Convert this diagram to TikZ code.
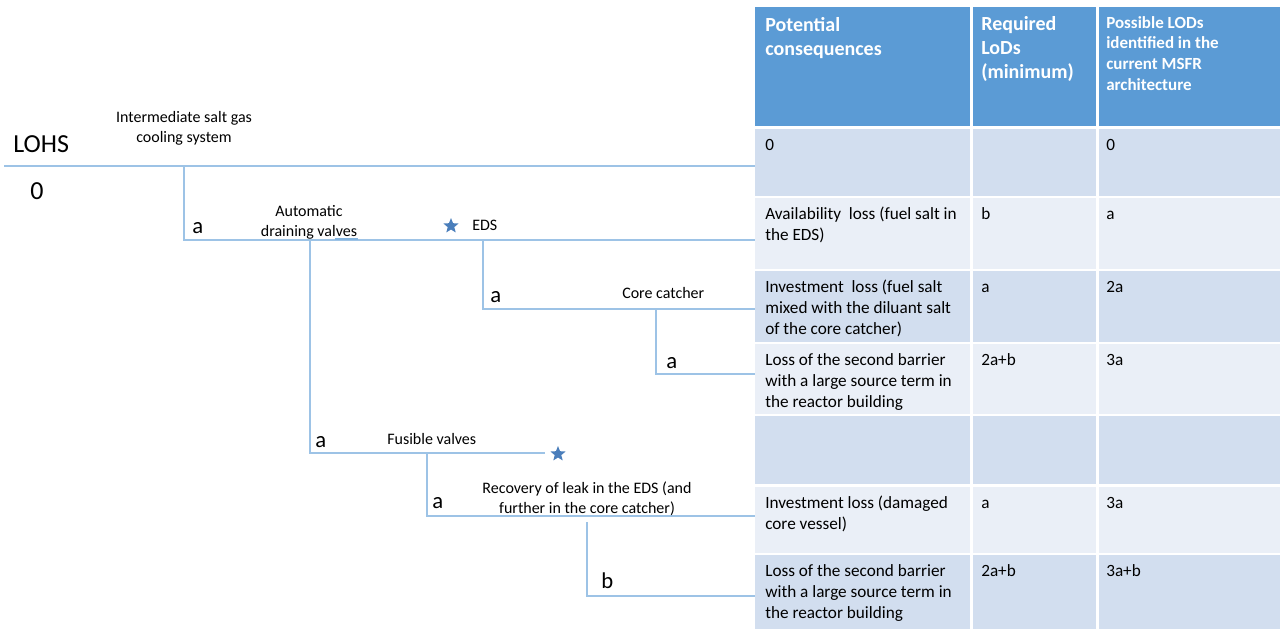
\documentclass[tikz,border=0pt]{standalone}
\usepackage{fontspec}
\setmainfont{Carlito}
\usepackage{xcolor}
\usetikzlibrary{positioning,shapes.geometric}
\definecolor{hdrblue}{HTML}{5B9BD5}
\definecolor{rowdark}{HTML}{D2DEEF}
\definecolor{rowlight}{HTML}{EAEFF7}
\definecolor{linkblue}{HTML}{9DC3E6}
\definecolor{starblue}{HTML}{4A7EBB}

\begin{document}
\begin{tikzpicture}[x=0.75pt,y=-0.75pt,
		branch/.style={draw=linkblue,line width=1.1pt},
		evtlbl/.style={font=\fontsize{12}{15}\selectfont,align=center,inner sep=0pt,anchor=base},
		lod/.style={font=\fontsize{17}{20}\selectfont,anchor=base west,inner sep=0pt},
		evtstar/.style={star,star points=5,star point ratio=2.3,fill=starblue,minimum size=12pt,inner sep=0pt},
		cellt/.style={font=\fontsize{12.9}{15.75}\selectfont,align=left,anchor=base west,inner sep=0pt},
		hdrt/.style={font=\fontsize{15}{17.7}\selectfont\bfseries,text=white,align=left,anchor=base west,inner sep=0pt},
		hdrsmall/.style={font=\fontsize{12.75}{15.5}\selectfont\bfseries,text=white,align=left,anchor=base west,inner sep=0pt}]
		\fill[white] (0,0) rectangle (1280,629);
		\useasboundingbox (0,0) rectangle (1280,629);
		
		% table (multi-line cells sit on the baseline of their last line)
		\fill[hdrblue] (755,7) rectangle (970,126);
		\fill[hdrblue] (973,7) rectangle (1096,126);
		\fill[hdrblue] (1099,7) rectangle (1280,126);
		\foreach \yt/\yb/\shade in {129/196/rowdark,198/269/rowlight,271/342/rowdark,344/414/rowlight,416/484/rowdark,487/553/rowlight,555/629/rowdark}{
			\fill[\shade] (755,\yt) rectangle (970,\yb);
			\fill[\shade] (973,\yt) rectangle (1096,\yb);
			\fill[\shade] (1099,\yt) rectangle (1280,\yb);
		}
		\node[hdrt] (h1) at (765,55) {Potential\\consequences};
		\node[hdrt] (h2) at (981,78) {Required\\LoDs\\(minimum)};
		\node[hdrsmall] (h3) at (1106,90) {Possible LODs\\identified in the\\current MSFR\\architecture};
		
		\node[cellt] (c11) at (765,150) {0};
		\node[cellt] (c13) at (1106,150) {0};
		\node[cellt] (c21) at (765,240) {Availability\ \ loss (fuel salt in\\the EDS)};
		\node[cellt] (c22) at (981,219) {b};
		\node[cellt] (c23) at (1106,219) {a};
		\node[cellt] (c31) at (765,334) {Investment\ \ loss (fuel salt\\mixed with the diluant salt\\of the core catcher)};
		\node[cellt] (c32) at (981,292) {a};
		\node[cellt] (c33) at (1106,292) {2a};
		\node[cellt] (c41) at (765,407) {Loss of the second barrier\\with a large source term in\\the reactor building};
		\node[cellt] (c42) at (981,365) {2a+b};
		\node[cellt] (c43) at (1106,365) {3a};
		\node[cellt] (c61) at (765,529) {Investment loss (damaged\\core vessel)};
		\node[cellt] (c62) at (981,508) {a};
		\node[cellt] (c63) at (1106,508) {3a};
		\node[cellt] (c71) at (765,618) {Loss of the second barrier\\with a large source term in\\the reactor building};
		\node[cellt] (c72) at (981,576) {2a+b};
		\node[cellt] (c73) at (1106,576) {3a+b};
		
		% event tree
		\coordinate (s0) at (4,166);
		\coordinate (j0) at (184,166);
		\coordinate (j1) at (184,240);
		\coordinate (j2) at (310,240);
		\coordinate (j3) at (310,453);
		\coordinate (j4) at (483,240);
		\coordinate (j5) at (483,309);
		\coordinate (j6) at (656,309);
		\coordinate (j7) at (656,374);
		\coordinate (j8) at (427,453);
		\coordinate (j9) at (427,516);
		\coordinate (j10) at (587,522);
		\coordinate (j11) at (587,596);
		\coordinate (e0) at (755,166);
		\coordinate (e1) at (755,240);
		\coordinate (e2) at (755,309);
		\coordinate (e3) at (755,374);
		\coordinate (e4) at (755,516);
		\coordinate (e5) at (755,596);
		\coordinate (f0) at (545,453);
		
		\draw[branch] (s0) -- (e0);
		\draw[branch] (j0) -- (j1) -- (e1);
		\draw[branch] (j2) -- (j3) -- (f0);
		\draw[branch] (j4) -- (j5) -- (e2);
		\draw[branch] (j6) -- (j7) -- (e3);
		\draw[branch] (j8) -- (j9) -- (e4);
		\draw[branch] (j10) -- (j11) -- (e5);
		\coordinate (u0) at (335,239);
		\coordinate (u1) at (358,239);
		\draw[draw=hdrblue!75,line width=0.8pt] (u0) -- (u1);
		
		\node[evtstar] (eds) at (451,226) {};
		\node[evtstar] (fus) at (558,454) {};
		
		\node[lod,font=\fontsize{19.5}{22}\selectfont] (lohs) at (13,152) {LOHS};
		\node[lod,font=\fontsize{19.5}{22}\selectfont] (zero) at (30,199) {0};
		\node[lod] (a1) at (192,233) {a};
		\node[lod] (a2) at (490,302) {a};
		\node[lod] (a3) at (666,368) {a};
		\node[lod] (a4) at (315,447) {a};
		\node[lod] (a5) at (432,508) {a};
		\node[lod] (b1) at (601,588) {b};
		
		\node[evtlbl] (isg) at (184,142) {Intermediate salt gas\\cooling system};
		\node[evtlbl] (adv) at (309,236) {Automatic\\draining valves};
		\node[evtlbl,anchor=base west] (edsl) at (472,230) {EDS};
		\node[evtlbl,anchor=base west] (cc) at (622,298) {Core catcher};
		\node[evtlbl,anchor=base west] (fv) at (387,444) {Fusible valves};
		\node[evtlbl] (rec) at (587,513) {Recovery of leak in the EDS (and\\further in the core catcher)};
\end{tikzpicture}
\end{document}
